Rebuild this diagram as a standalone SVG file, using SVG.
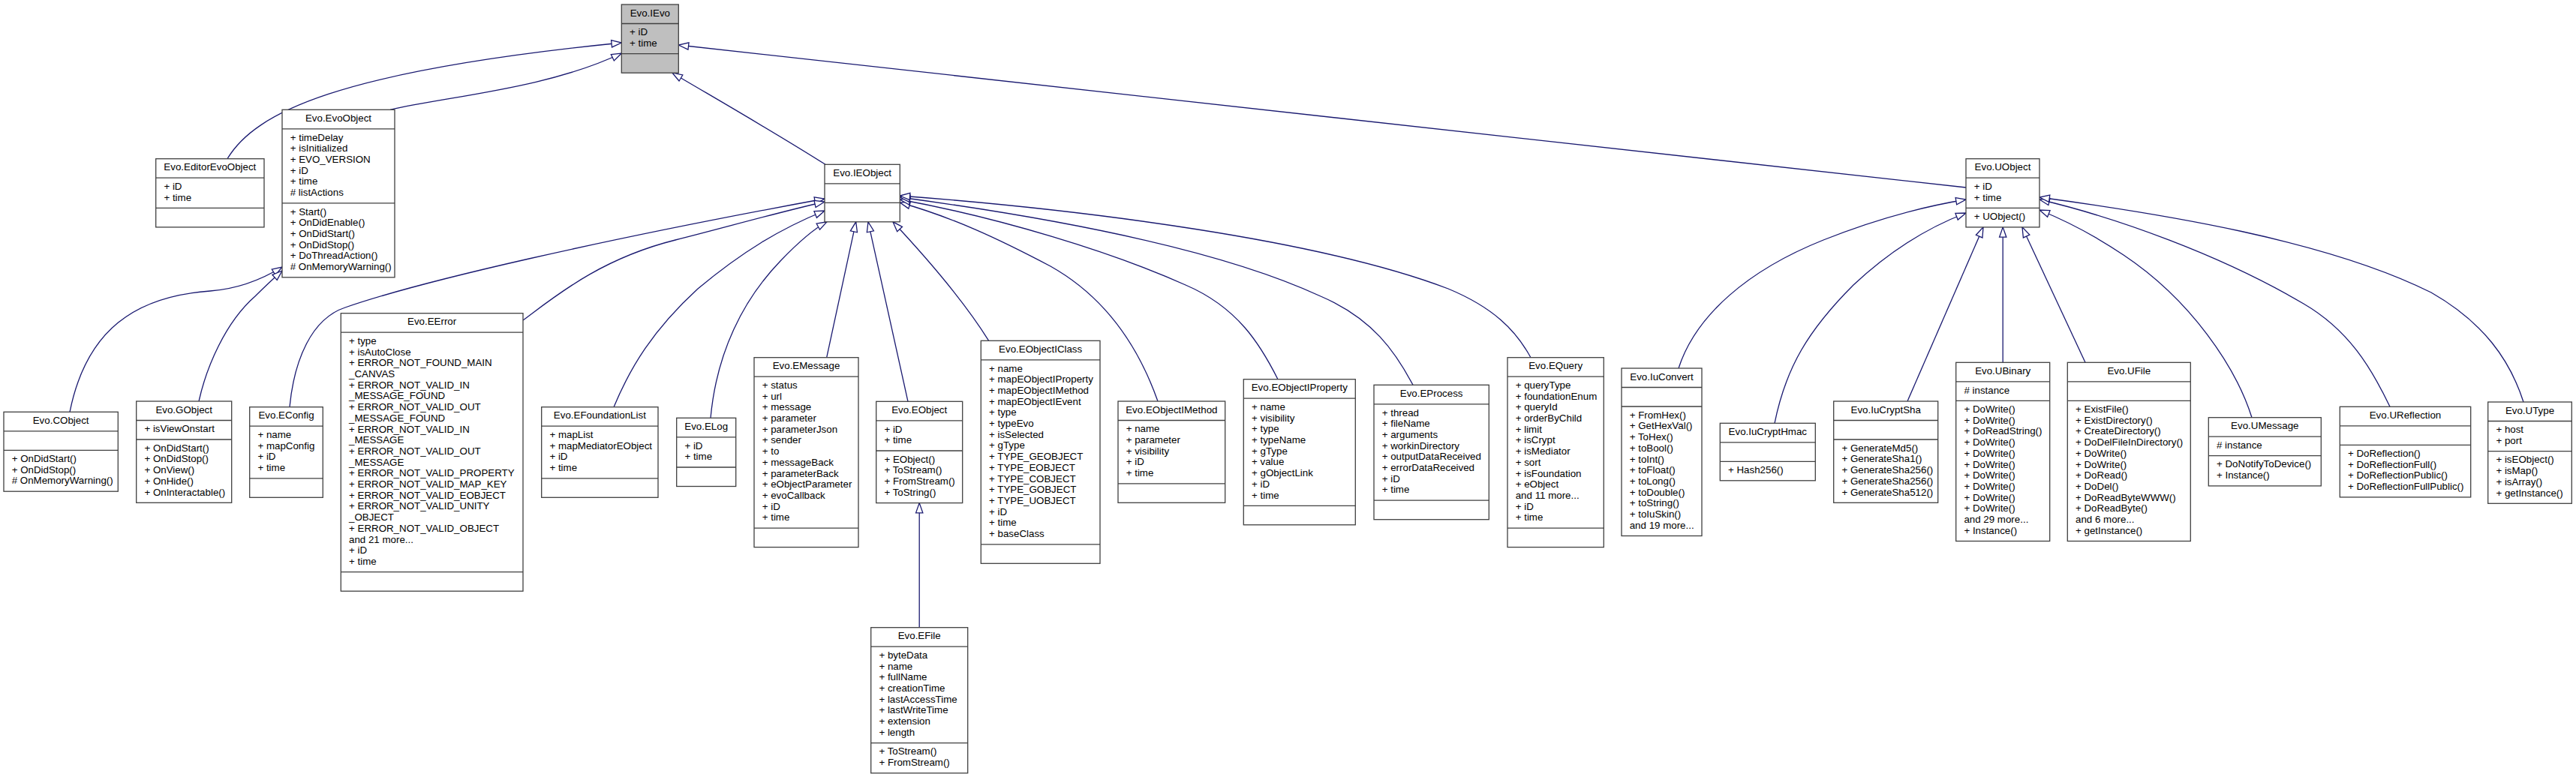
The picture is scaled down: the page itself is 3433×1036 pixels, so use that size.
<svg xmlns="http://www.w3.org/2000/svg" width="3433" height="1036" viewBox="0 0 3433 1036">
<style>
.box{fill:#fff;stroke:#404040;stroke-width:1.3}
.cur{fill:#bfbfbf;stroke:#404040;stroke-width:1.3}
.sep{fill:none;stroke:#404040;stroke-width:1.3}
.t{font-family:"Liberation Sans",Arial,Helvetica,sans-serif;font-size:13.33px;fill:#000}
.c{text-anchor:middle}
.e{fill:none;stroke:#191970;stroke-width:1.3;marker-end:url(#arr)}
</style>
<defs>
<marker id="arr" markerUnits="userSpaceOnUse" markerWidth="14" markerHeight="10" refX="13.3" refY="4.65" orient="auto" overflow="visible">
<path d="M0,0 L13.3,4.65 L0,9.3 Z" fill="#fff" stroke="#191970" stroke-width="1.3"/>
</marker>
</defs>
<rect x="0" y="0" width="3433" height="1036" fill="#fff"/>

<g id="connectors">
<path class="e" d="M303,211.7 C340,150 450,95 828.3,57"/>
<path class="e" d="M520,146.3 C600,128 730,118 828.3,71"/>
<path class="e" d="M1100,219.3 C1030,175 960,135 896,97.2"/>
<path class="e" d="M2620,250 L904.3,60"/>
<path class="e" d="M93,549.3 C115,440 180,395 280,388 C320,385 350,372 376,356"/>
<path class="e" d="M265,535 C275,490 300,430 340,395 C355,380 366,370 376,361"/>
<path class="e" d="M386,542.7 C392,480 415,425 460,410 C560,375 800,320 1099,265"/>
<path class="e" d="M697,427 C740,395 800,345 900,320 C960,305 1030,285 1099,269"/>
<path class="e" d="M818,542.7 C840,490 870,440 930,385 C990,335 1040,305 1099,281"/>
<path class="e" d="M947,557.3 C955,470 990,400 1040,348 C1065,322 1085,305 1102,295.8"/>
<path class="e" d="M1101.7,476.7 L1140.7,295.8"/>
<path class="e" d="M1210,535.3 L1157,295.8"/>
<path class="e" d="M1317.7,454.3 C1290,410 1250,360 1190,295.8"/>
<path class="e" d="M1543,535 C1520,470 1480,400 1400,355 C1330,318 1270,290 1199.3,270"/>
<path class="e" d="M1703,505.7 C1680,460 1650,410 1580,380 C1480,335 1330,290 1199.3,266"/>
<path class="e" d="M1883,513.3 C1860,470 1830,425 1760,395 C1620,330 1400,290 1199.3,263"/>
<path class="e" d="M2040,476.7 C2020,440 1990,410 1930,385 C1760,320 1450,280 1199.3,261"/>
<path class="e" d="M1225.2,836.7 L1225.2,670.6"/>
<path class="e" d="M2237,491 C2260,420 2330,360 2430,320 C2500,292 2560,276 2620,266"/>
<path class="e" d="M2365,564.3 C2380,490 2410,440 2470,380 C2520,333 2570,303 2620,284"/>
<path class="e" d="M2542,535 L2643,302.9"/>
<path class="e" d="M2669.2,483.3 L2669.2,302.9"/>
<path class="e" d="M2779,483.3 L2695,302.9"/>
<path class="e" d="M3001,556.7 C2980,490 2920,400 2830,340 C2790,313 2755,295 2718,280"/>
<path class="e" d="M3185,542.3 C3160,490 3130,440 3070,405 C2960,340 2820,290 2718,266"/>
<path class="e" d="M3363,536 C3345,480 3310,430 3240,390 C3100,320 2880,285 2718,263"/>
</g>

<g id="IEvo">
<rect class="cur" x="828.3" y="6" width="76" height="91.2"/>
<path class="sep" d="M828.3,31.5 h76 M828.3,71.7 h76"/>
<text class="t c" x="866.3" y="21.7">Evo.IEvo</text>
<text class="t"><tspan x="839" y="47.2">+ iD</tspan><tspan x="839" dy="14.7">+ time</tspan></text>
</g>

<g id="EditorEvoObject">
<rect class="box" x="207.7" y="211.7" width="144.3" height="91.2"/>
<path class="sep" d="M207.7,237.2 h144.3 M207.7,277.4 h144.3"/>
<text class="t c" x="279.85" y="227.4">Evo.EditorEvoObject</text>
<text class="t"><tspan x="218.4" y="252.9">+ iD</tspan><tspan x="218.4" dy="14.7">+ time</tspan></text>
</g>

<g id="EvoObject">
<rect class="box" x="376" y="146.3" width="150" height="223.5"/>
<path class="sep" d="M376,171.8 h150 M376,270.8 h150"/>
<text class="t c" x="451" y="162">Evo.EvoObject</text>
<text class="t"><tspan x="386.7" y="187.5">+ timeDelay</tspan><tspan x="386.7" dy="14.7">+ isInitialized</tspan><tspan x="386.7" dy="14.7">+ EVO_VERSION</tspan><tspan x="386.7" dy="14.7">+ iD</tspan><tspan x="386.7" dy="14.7">+ time</tspan><tspan x="386.7" dy="14.7"># listActions</tspan></text>
<text class="t"><tspan x="386.7" y="286.5">+ Start()</tspan><tspan x="386.7" dy="14.7">+ OnDidEnable()</tspan><tspan x="386.7" dy="14.7">+ OnDidStart()</tspan><tspan x="386.7" dy="14.7">+ OnDidStop()</tspan><tspan x="386.7" dy="14.7">+ DoThreadAction()</tspan><tspan x="386.7" dy="14.7"># OnMemoryWarning()</tspan></text>
</g>

<g id="CObject">
<rect class="box" x="5" y="549.3" width="152.3" height="105.9"/>
<path class="sep" d="M5,574.8 h152.3 M5,600.3 h152.3"/>
<text class="t c" x="81.15" y="565">Evo.CObject</text>
<text class="t"><tspan x="15.7" y="616">+ OnDidStart()</tspan><tspan x="15.7" dy="14.7">+ OnDidStop()</tspan><tspan x="15.7" dy="14.7"># OnMemoryWarning()</tspan></text>
</g>

<g id="GObject">
<rect class="box" x="181.7" y="535" width="127" height="135.3"/>
<path class="sep" d="M181.7,560.5 h127 M181.7,586 h127"/>
<text class="t c" x="245.2" y="550.7">Evo.GObject</text>
<text class="t"><tspan x="192.4" y="576.2">+ isViewOnstart</tspan></text>
<text class="t"><tspan x="192.4" y="601.7">+ OnDidStart()</tspan><tspan x="192.4" dy="14.7">+ OnDidStop()</tspan><tspan x="192.4" dy="14.7">+ OnView()</tspan><tspan x="192.4" dy="14.7">+ OnHide()</tspan><tspan x="192.4" dy="14.7">+ OnInteractable()</tspan></text>
</g>

<g id="EConfig">
<rect class="box" x="332.7" y="542.7" width="97.6" height="120.6"/>
<path class="sep" d="M332.7,568.2 h97.6 M332.7,637.8 h97.6"/>
<text class="t c" x="381.5" y="558.4">Evo.EConfig</text>
<text class="t"><tspan x="343.4" y="583.9">+ name</tspan><tspan x="343.4" dy="14.7">+ mapConfig</tspan><tspan x="343.4" dy="14.7">+ iD</tspan><tspan x="343.4" dy="14.7">+ time</tspan></text>
</g>

<g id="EError">
<rect class="box" x="454.3" y="417.7" width="242.7" height="370.5"/>
<path class="sep" d="M454.3,443.2 h242.7 M454.3,762.7 h242.7"/>
<text class="t c" x="575.65" y="433.4">Evo.EError</text>
<text class="t"><tspan x="465" y="458.9">+ type</tspan><tspan x="465" dy="14.7">+ isAutoClose</tspan><tspan x="465" dy="14.7">+ ERROR_NOT_FOUND_MAIN</tspan><tspan x="465" dy="14.7">_CANVAS</tspan><tspan x="465" dy="14.7">+ ERROR_NOT_VALID_IN</tspan><tspan x="465" dy="14.7">_MESSAGE_FOUND</tspan><tspan x="465" dy="14.7">+ ERROR_NOT_VALID_OUT</tspan><tspan x="465" dy="14.7">_MESSAGE_FOUND</tspan><tspan x="465" dy="14.7">+ ERROR_NOT_VALID_IN</tspan><tspan x="465" dy="14.7">_MESSAGE</tspan><tspan x="465" dy="14.7">+ ERROR_NOT_VALID_OUT</tspan><tspan x="465" dy="14.7">_MESSAGE</tspan><tspan x="465" dy="14.7">+ ERROR_NOT_VALID_PROPERTY</tspan><tspan x="465" dy="14.7">+ ERROR_NOT_VALID_MAP_KEY</tspan><tspan x="465" dy="14.7">+ ERROR_NOT_VALID_EOBJECT</tspan><tspan x="465" dy="14.7">+ ERROR_NOT_VALID_UNITY</tspan><tspan x="465" dy="14.7">_OBJECT</tspan><tspan x="465" dy="14.7">+ ERROR_NOT_VALID_OBJECT</tspan><tspan x="465" dy="14.7">and 21 more...</tspan><tspan x="465" dy="14.7">+ iD</tspan><tspan x="465" dy="14.7">+ time</tspan></text>
</g>

<g id="EFoundationList">
<rect class="box" x="721.7" y="542.7" width="155.3" height="120.6"/>
<path class="sep" d="M721.7,568.2 h155.3 M721.7,637.8 h155.3"/>
<text class="t c" x="799.35" y="558.4">Evo.EFoundationList</text>
<text class="t"><tspan x="732.4" y="583.9">+ mapList</tspan><tspan x="732.4" dy="14.7">+ mapMediatorEObject</tspan><tspan x="732.4" dy="14.7">+ iD</tspan><tspan x="732.4" dy="14.7">+ time</tspan></text>
</g>

<g id="ELog">
<rect class="box" x="901.7" y="557.3" width="79" height="91.2"/>
<path class="sep" d="M901.7,582.8 h79 M901.7,623 h79"/>
<text class="t c" x="941.2" y="573">Evo.ELog</text>
<text class="t"><tspan x="912.4" y="598.5">+ iD</tspan><tspan x="912.4" dy="14.7">+ time</tspan></text>
</g>

<g id="EMessage">
<rect class="box" x="1005" y="476.7" width="139" height="252.9"/>
<path class="sep" d="M1005,502.2 h139 M1005,704.1 h139"/>
<text class="t c" x="1074.5" y="492.4">Evo.EMessage</text>
<text class="t"><tspan x="1015.7" y="517.9">+ status</tspan><tspan x="1015.7" dy="14.7">+ url</tspan><tspan x="1015.7" dy="14.7">+ message</tspan><tspan x="1015.7" dy="14.7">+ parameter</tspan><tspan x="1015.7" dy="14.7">+ parameterJson</tspan><tspan x="1015.7" dy="14.7">+ sender</tspan><tspan x="1015.7" dy="14.7">+ to</tspan><tspan x="1015.7" dy="14.7">+ messageBack</tspan><tspan x="1015.7" dy="14.7">+ parameterBack</tspan><tspan x="1015.7" dy="14.7">+ eObjectParameter</tspan><tspan x="1015.7" dy="14.7">+ evoCallback</tspan><tspan x="1015.7" dy="14.7">+ iD</tspan><tspan x="1015.7" dy="14.7">+ time</tspan></text>
</g>

<g id="EObject">
<rect class="box" x="1167.7" y="535.3" width="115" height="135.3"/>
<path class="sep" d="M1167.7,560.8 h115 M1167.7,601 h115"/>
<text class="t c" x="1225.2" y="551">Evo.EObject</text>
<text class="t"><tspan x="1178.4" y="576.5">+ iD</tspan><tspan x="1178.4" dy="14.7">+ time</tspan></text>
<text class="t"><tspan x="1178.4" y="616.7">+ EObject()</tspan><tspan x="1178.4" dy="14.7">+ ToStream()</tspan><tspan x="1178.4" dy="14.7">+ FromStream()</tspan><tspan x="1178.4" dy="14.7">+ ToString()</tspan></text>
</g>

<g id="EFile">
<rect class="box" x="1160.7" y="836.7" width="129" height="194.1"/>
<path class="sep" d="M1160.7,862.2 h129 M1160.7,990.6 h129"/>
<text class="t c" x="1225.2" y="852.4">Evo.EFile</text>
<text class="t"><tspan x="1171.4" y="877.9">+ byteData</tspan><tspan x="1171.4" dy="14.7">+ name</tspan><tspan x="1171.4" dy="14.7">+ fullName</tspan><tspan x="1171.4" dy="14.7">+ creationTime</tspan><tspan x="1171.4" dy="14.7">+ lastAccessTime</tspan><tspan x="1171.4" dy="14.7">+ lastWriteTime</tspan><tspan x="1171.4" dy="14.7">+ extension</tspan><tspan x="1171.4" dy="14.7">+ length</tspan></text>
<text class="t"><tspan x="1171.4" y="1006.3">+ ToStream()</tspan><tspan x="1171.4" dy="14.7">+ FromStream()</tspan></text>
</g>

<g id="EObjectIClass">
<rect class="box" x="1307.3" y="454.3" width="158.7" height="297"/>
<path class="sep" d="M1307.3,479.8 h158.7 M1307.3,725.8 h158.7"/>
<text class="t c" x="1386.65" y="470">Evo.EObjectIClass</text>
<text class="t"><tspan x="1318" y="495.5">+ name</tspan><tspan x="1318" dy="14.7">+ mapEObjectIProperty</tspan><tspan x="1318" dy="14.7">+ mapEObjectIMethod</tspan><tspan x="1318" dy="14.7">+ mapEObjectIEvent</tspan><tspan x="1318" dy="14.7">+ type</tspan><tspan x="1318" dy="14.7">+ typeEvo</tspan><tspan x="1318" dy="14.7">+ isSelected</tspan><tspan x="1318" dy="14.7">+ gType</tspan><tspan x="1318" dy="14.7">+ TYPE_GEOBJECT</tspan><tspan x="1318" dy="14.7">+ TYPE_EOBJECT</tspan><tspan x="1318" dy="14.7">+ TYPE_COBJECT</tspan><tspan x="1318" dy="14.7">+ TYPE_GOBJECT</tspan><tspan x="1318" dy="14.7">+ TYPE_UOBJECT</tspan><tspan x="1318" dy="14.7">+ iD</tspan><tspan x="1318" dy="14.7">+ time</tspan><tspan x="1318" dy="14.7">+ baseClass</tspan></text>
</g>

<g id="EObjectIMethod">
<rect class="box" x="1490" y="535" width="142.7" height="135.3"/>
<path class="sep" d="M1490,560.5 h142.7 M1490,644.8 h142.7"/>
<text class="t c" x="1561.35" y="550.7">Evo.EObjectIMethod</text>
<text class="t"><tspan x="1500.7" y="576.2">+ name</tspan><tspan x="1500.7" dy="14.7">+ parameter</tspan><tspan x="1500.7" dy="14.7">+ visibility</tspan><tspan x="1500.7" dy="14.7">+ iD</tspan><tspan x="1500.7" dy="14.7">+ time</tspan></text>
</g>

<g id="EObjectIProperty">
<rect class="box" x="1657.3" y="505.7" width="149" height="194.1"/>
<path class="sep" d="M1657.3,531.2 h149 M1657.3,674.3 h149"/>
<text class="t c" x="1731.8" y="521.4">Evo.EObjectIProperty</text>
<text class="t"><tspan x="1668" y="546.9">+ name</tspan><tspan x="1668" dy="14.7">+ visibility</tspan><tspan x="1668" dy="14.7">+ type</tspan><tspan x="1668" dy="14.7">+ typeName</tspan><tspan x="1668" dy="14.7">+ gType</tspan><tspan x="1668" dy="14.7">+ value</tspan><tspan x="1668" dy="14.7">+ gObjectLink</tspan><tspan x="1668" dy="14.7">+ iD</tspan><tspan x="1668" dy="14.7">+ time</tspan></text>
</g>

<g id="EProcess">
<rect class="box" x="1831" y="513.3" width="153.3" height="179.4"/>
<path class="sep" d="M1831,538.8 h153.3 M1831,667.2 h153.3"/>
<text class="t c" x="1907.65" y="529">Evo.EProcess</text>
<text class="t"><tspan x="1841.7" y="554.5">+ thread</tspan><tspan x="1841.7" dy="14.7">+ fileName</tspan><tspan x="1841.7" dy="14.7">+ arguments</tspan><tspan x="1841.7" dy="14.7">+ workinDirectory</tspan><tspan x="1841.7" dy="14.7">+ outputDataReceived</tspan><tspan x="1841.7" dy="14.7">+ errorDataReceived</tspan><tspan x="1841.7" dy="14.7">+ iD</tspan><tspan x="1841.7" dy="14.7">+ time</tspan></text>
</g>

<g id="EQuery">
<rect class="box" x="2009" y="476.7" width="128.3" height="252.9"/>
<path class="sep" d="M2009,502.2 h128.3 M2009,704.1 h128.3"/>
<text class="t c" x="2073.15" y="492.4">Evo.EQuery</text>
<text class="t"><tspan x="2019.7" y="517.9">+ queryType</tspan><tspan x="2019.7" dy="14.7">+ foundationEnum</tspan><tspan x="2019.7" dy="14.7">+ queryId</tspan><tspan x="2019.7" dy="14.7">+ orderByChild</tspan><tspan x="2019.7" dy="14.7">+ limit</tspan><tspan x="2019.7" dy="14.7">+ isCrypt</tspan><tspan x="2019.7" dy="14.7">+ isMediator</tspan><tspan x="2019.7" dy="14.7">+ sort</tspan><tspan x="2019.7" dy="14.7">+ isFoundation</tspan><tspan x="2019.7" dy="14.7">+ eObject</tspan><tspan x="2019.7" dy="14.7">and 11 more...</tspan><tspan x="2019.7" dy="14.7">+ iD</tspan><tspan x="2019.7" dy="14.7">+ time</tspan></text>
</g>

<g id="IEObject">
<rect class="box" x="1099" y="219.3" width="100.3" height="76.5"/>
<path class="sep" d="M1099,244.8 h100.3 M1099,270.3 h100.3"/>
<text class="t c" x="1149.15" y="235">Evo.IEObject</text>
</g>

<g id="UObject">
<rect class="box" x="2620" y="211.7" width="98" height="91.2"/>
<path class="sep" d="M2620,237.2 h98 M2620,277.4 h98"/>
<text class="t c" x="2669" y="227.4">Evo.UObject</text>
<text class="t"><tspan x="2630.7" y="252.9">+ iD</tspan><tspan x="2630.7" dy="14.7">+ time</tspan></text>
<text class="t"><tspan x="2630.7" y="293.1">+ UObject()</tspan></text>
</g>

<g id="IuConvert">
<rect class="box" x="2161" y="491" width="107" height="223.5"/>
<path class="sep" d="M2161,516.5 h107 M2161,542 h107"/>
<text class="t c" x="2214.5" y="506.7">Evo.IuConvert</text>
<text class="t"><tspan x="2171.7" y="557.7">+ FromHex()</tspan><tspan x="2171.7" dy="14.7">+ GetHexVal()</tspan><tspan x="2171.7" dy="14.7">+ ToHex()</tspan><tspan x="2171.7" dy="14.7">+ toBool()</tspan><tspan x="2171.7" dy="14.7">+ toInt()</tspan><tspan x="2171.7" dy="14.7">+ toFloat()</tspan><tspan x="2171.7" dy="14.7">+ toLong()</tspan><tspan x="2171.7" dy="14.7">+ toDouble()</tspan><tspan x="2171.7" dy="14.7">+ toString()</tspan><tspan x="2171.7" dy="14.7">+ toIuSkin()</tspan><tspan x="2171.7" dy="14.7">and 19 more...</tspan></text>
</g>

<g id="IuCryptHmac">
<rect class="box" x="2292.3" y="564.3" width="127" height="76.5"/>
<path class="sep" d="M2292.3,589.8 h127 M2292.3,615.3 h127"/>
<text class="t c" x="2355.8" y="580">Evo.IuCryptHmac</text>
<text class="t"><tspan x="2303" y="631">+ Hash256()</tspan></text>
</g>

<g id="IuCryptSha">
<rect class="box" x="2443.7" y="535" width="139" height="135.3"/>
<path class="sep" d="M2443.7,560.5 h139 M2443.7,586 h139"/>
<text class="t c" x="2513.2" y="550.7">Evo.IuCryptSha</text>
<text class="t"><tspan x="2454.4" y="601.7">+ GenerateMd5()</tspan><tspan x="2454.4" dy="14.7">+ GenerateSha1()</tspan><tspan x="2454.4" dy="14.7">+ GenerateSha256()</tspan><tspan x="2454.4" dy="14.7">+ GenerateSha256()</tspan><tspan x="2454.4" dy="14.7">+ GenerateSha512()</tspan></text>
</g>

<g id="UBinary">
<rect class="box" x="2606.7" y="483.3" width="125" height="238.2"/>
<path class="sep" d="M2606.7,508.8 h125 M2606.7,534.3 h125"/>
<text class="t c" x="2669.2" y="499">Evo.UBinary</text>
<text class="t"><tspan x="2617.4" y="524.5"># instance</tspan></text>
<text class="t"><tspan x="2617.4" y="550">+ DoWrite()</tspan><tspan x="2617.4" dy="14.7">+ DoWrite()</tspan><tspan x="2617.4" dy="14.7">+ DoReadString()</tspan><tspan x="2617.4" dy="14.7">+ DoWrite()</tspan><tspan x="2617.4" dy="14.7">+ DoWrite()</tspan><tspan x="2617.4" dy="14.7">+ DoWrite()</tspan><tspan x="2617.4" dy="14.7">+ DoWrite()</tspan><tspan x="2617.4" dy="14.7">+ DoWrite()</tspan><tspan x="2617.4" dy="14.7">+ DoWrite()</tspan><tspan x="2617.4" dy="14.7">+ DoWrite()</tspan><tspan x="2617.4" dy="14.7">and 29 more...</tspan><tspan x="2617.4" dy="14.7">+ Instance()</tspan></text>
</g>

<g id="UFile">
<rect class="box" x="2755.3" y="483.3" width="164" height="238.2"/>
<path class="sep" d="M2755.3,508.8 h164 M2755.3,534.3 h164"/>
<text class="t c" x="2837.3" y="499">Evo.UFile</text>
<text class="t"><tspan x="2766" y="550">+ ExistFile()</tspan><tspan x="2766" dy="14.7">+ ExistDirectory()</tspan><tspan x="2766" dy="14.7">+ CreateDirectory()</tspan><tspan x="2766" dy="14.7">+ DoDelFileInDirectory()</tspan><tspan x="2766" dy="14.7">+ DoWrite()</tspan><tspan x="2766" dy="14.7">+ DoWrite()</tspan><tspan x="2766" dy="14.7">+ DoRead()</tspan><tspan x="2766" dy="14.7">+ DoDel()</tspan><tspan x="2766" dy="14.7">+ DoReadByteWWW()</tspan><tspan x="2766" dy="14.7">+ DoReadByte()</tspan><tspan x="2766" dy="14.7">and 6 more...</tspan><tspan x="2766" dy="14.7">+ getInstance()</tspan></text>
</g>

<g id="UMessage">
<rect class="box" x="2943.3" y="556.7" width="150" height="91.2"/>
<path class="sep" d="M2943.3,582.2 h150 M2943.3,607.7 h150"/>
<text class="t c" x="3018.3" y="572.4">Evo.UMessage</text>
<text class="t"><tspan x="2954" y="597.9"># instance</tspan></text>
<text class="t"><tspan x="2954" y="623.4">+ DoNotifyToDevice()</tspan><tspan x="2954" dy="14.7">+ Instance()</tspan></text>
</g>

<g id="UReflection">
<rect class="box" x="3118.3" y="542.3" width="174.4" height="120.6"/>
<path class="sep" d="M3118.3,567.8 h174.4 M3118.3,593.3 h174.4"/>
<text class="t c" x="3205.5" y="558">Evo.UReflection</text>
<text class="t"><tspan x="3129" y="609">+ DoReflection()</tspan><tspan x="3129" dy="14.7">+ DoReflectionFull()</tspan><tspan x="3129" dy="14.7">+ DoReflectionPublic()</tspan><tspan x="3129" dy="14.7">+ DoReflectionFullPublic()</tspan></text>
</g>

<g id="UType">
<rect class="box" x="3315.7" y="536" width="111.6" height="135.3"/>
<path class="sep" d="M3315.7,561.5 h111.6 M3315.7,601.7 h111.6"/>
<text class="t c" x="3371.5" y="551.7">Evo.UType</text>
<text class="t"><tspan x="3326.4" y="577.2">+ host</tspan><tspan x="3326.4" dy="14.7">+ port</tspan></text>
<text class="t"><tspan x="3326.4" y="617.4">+ isEObject()</tspan><tspan x="3326.4" dy="14.7">+ isMap()</tspan><tspan x="3326.4" dy="14.7">+ isArray()</tspan><tspan x="3326.4" dy="14.7">+ getInstance()</tspan></text>
</g>
</svg>
